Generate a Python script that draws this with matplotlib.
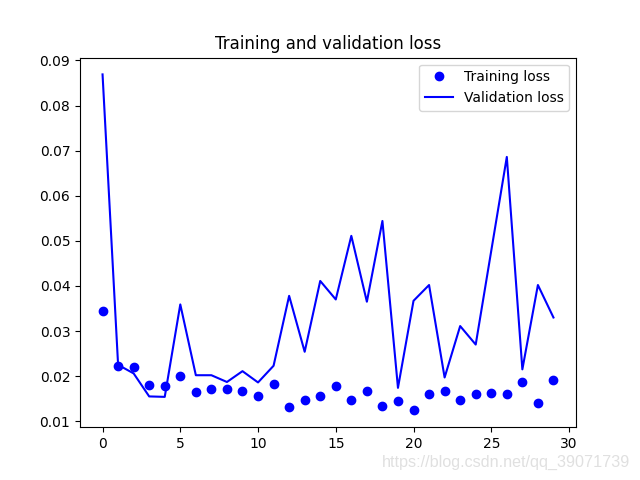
import matplotlib.pyplot as plt

epochs = list(range(30))
train_loss = [0.0344, 0.0222, 0.0220, 0.0180, 0.0178, 0.0200, 0.0164, 0.0171, 0.0171, 0.0166,
              0.0155, 0.0182, 0.0131, 0.0147, 0.0155, 0.0178, 0.0147, 0.0166, 0.0133, 0.0144,
              0.0124, 0.0160, 0.0166, 0.0147, 0.0160, 0.0162, 0.0160, 0.0186, 0.0140, 0.0191]
val_loss = [0.0869, 0.0225, 0.0206, 0.0155, 0.0154, 0.0359, 0.0202, 0.0202, 0.0187, 0.0211,
            0.0186, 0.0223, 0.0378, 0.0254, 0.0411, 0.0370, 0.0511, 0.0365, 0.0544, 0.0174,
            0.0367, 0.0402, 0.0197, 0.0311, 0.0270, 0.0478, 0.0686, 0.0215, 0.0402, 0.0330]

fig = plt.figure(figsize=(6.4, 4.8), dpi=100)
plt.plot(epochs, train_loss, 'bo', label='Training loss')
plt.plot(epochs, val_loss, 'b', label='Validation loss')
plt.title('Training and validation loss')
plt.legend()

# watermark
fig.text(0.984, 0.0375, 'https://blog.csdn.net/qq_39071739', ha='right', va='center',
         color='#e0e0e0', fontsize=11.6, family='Liberation Sans')

plt.savefig('out.png', dpi=100)
